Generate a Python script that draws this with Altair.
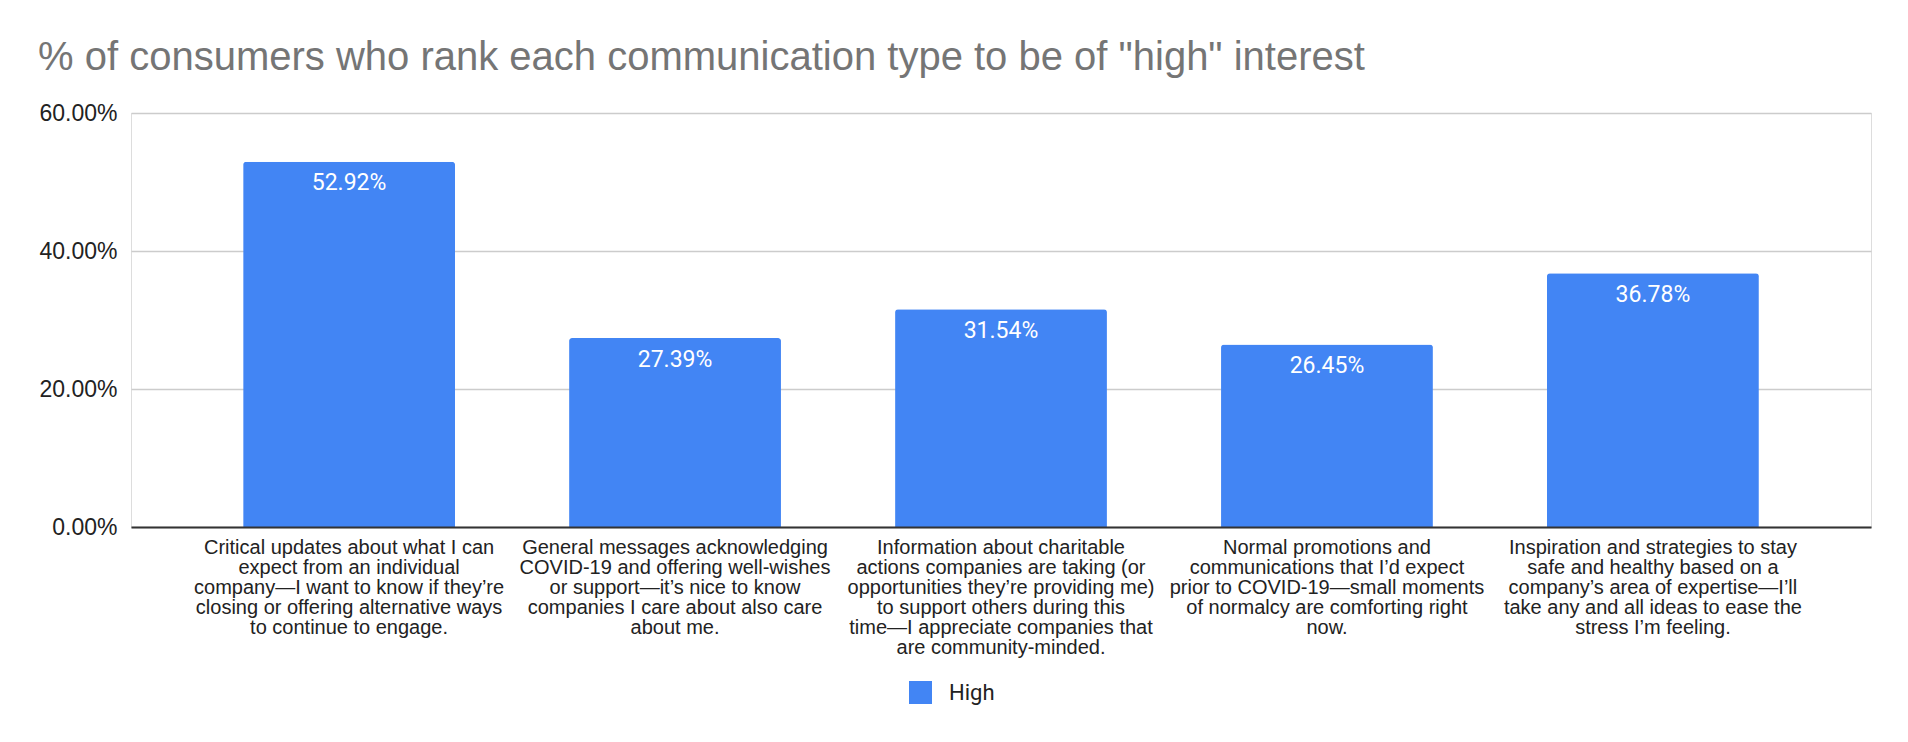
import altair as alt
import pandas as pd

categories = [
    "Critical updates about what I can|expect from an individual|company\u2014I want to know if they\u2019re|closing or offering alternative ways|to continue to engage.",
    "General messages acknowledging|COVID-19 and offering well-wishes|or support\u2014it\u2019s nice to know|companies I care about also care|about me.",
    "Information about charitable|actions companies are taking (or|opportunities they\u2019re providing me)|to support others during this|time\u2014I appreciate companies that|are community-minded.",
    "Normal promotions and|communications that I\u2019d expect|prior to COVID-19\u2014small moments|of normalcy are comforting right|now.",
    "Inspiration and strategies to stay|safe and healthy based on a|company\u2019s area of expertise\u2014I\u2019ll|take any and all ideas to ease the|stress I\u2019m feeling.",
]
values = [0.5292, 0.2739, 0.3154, 0.2645, 0.3678]
series = ["High"] * 5
y_ticks = [0.0, 0.2, 0.4, 0.6]

df = pd.DataFrame({"category": categories, "value": values, "series": series})

BLUE = "#4285F4"
SANS = "Arial, Liberation Sans, Helvetica, sans-serif"

x_enc = alt.X(
    "category:N",
    sort=None,
    title=None,
    scale=alt.Scale(paddingInner=0.35, paddingOuter=0.344),
    axis=alt.Axis(
        labelAngle=0,
        labelExpr="split(datum.label, '|')",
        labelFont=SANS,
        labelFontSize=20,
        labelLineHeight=20,
        labelColor="#222222",
        labelLimit=500,
        labelBaseline="top",
        labelPadding=10,
        ticks=False,
        domainColor="#333333",
        domainWidth=2,
        grid=False,
        zindex=1,
    ),
)

y_scale = alt.Scale(domain=[0, 0.6])

bars = alt.Chart(df).mark_bar(
    cornerRadiusTopLeft=3, cornerRadiusTopRight=3
).encode(
    x=x_enc,
    y=alt.Y(
        "value:Q",
        title=None,
        scale=y_scale,
        axis=alt.Axis(
            values=y_ticks,
            format=".2%",
            labelFont=SANS,
            labelFontSize=23,
            labelColor="#222222",
            labelPadding=14,
            domain=False,
            ticks=False,
            gridColor="#cccccc",
            gridWidth=1.3,
            zindex=0,
        ),
    ),
    color=alt.Color(
        "series:N",
        scale=alt.Scale(range=[BLUE]),
        legend=alt.Legend(
            title=None,
            orient="none",
            legendX=778,
            legendY=568,
            symbolType="square",
            symbolSize=529,
            symbolStrokeWidth=0,
            labelFont="Roboto",
            labelFontSize=22,
            labelColor="#222222",
            labelOffset=17,
            padding=0,
        ),
    ),
)

labels = alt.Chart(df).mark_text(
    color="white", font="Roboto", fontSize=23, baseline="alphabetic", dy=28.5
).encode(
    x=alt.X("category:N", sort=None),
    y=alt.Y("value:Q", scale=y_scale),
    text=alt.Text("value:Q", format=".2%"),
)

chart = alt.layer(bars, labels).properties(
    width=1740,
    height=414,
    autosize="none",
    padding={"left": 131, "top": 113, "right": 37, "bottom": 215},
    title=alt.TitleParams(
        text='% of consumers who rank each communication type to be of "high" interest',
        anchor="start",
        frame="group",
        font=SANS,
        fontSize=40,
        fontWeight="normal",
        color="#757575",
        baseline="alphabetic",
        dx=-93,
        dy=40,
        offset=32,
    ),
).configure_view(stroke=None).configure(background="white")

chart.save("out.html", embed_options={"renderer": "svg", "actions": False})
